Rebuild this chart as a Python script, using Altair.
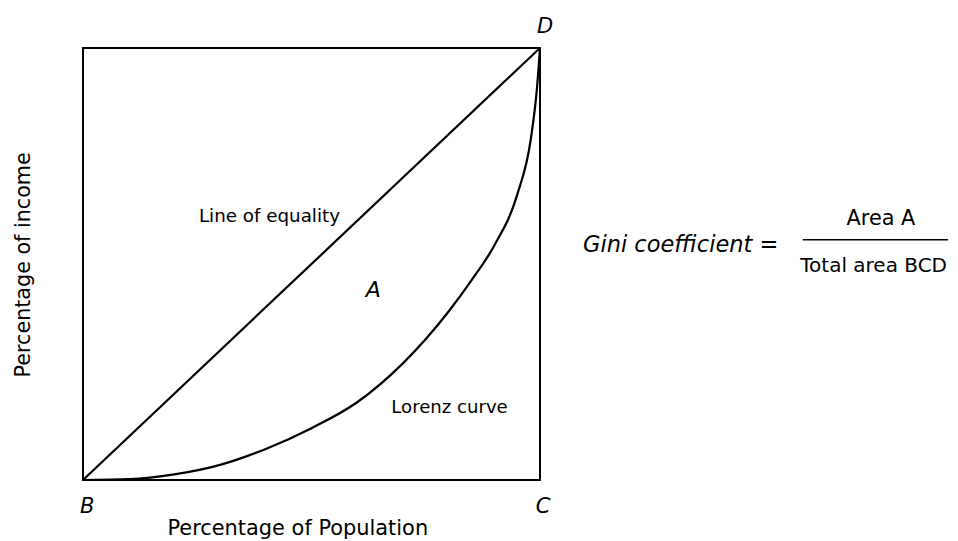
import altair as alt
import pandas as pd

# Line of equality
eq_x = [0, 100]
eq_y = [0, 100]

# Lorenz curve
lorenz_x = [0, 10, 20, 30, 40, 50, 60, 70, 80, 85, 90, 95, 98, 99.3, 100]
lorenz_y = [0, 0.2, 1.3, 3.5, 7.2, 12.0, 18.0, 27.0, 39.0, 46.2, 54.3, 66.0, 79.0, 90.3, 100]

# Annotation texts
labels = ["Line of equality", "A", "Lorenz curve", "B", "C", "D"]
label_x = [40.8, 63.5, 80.2, 0.9, 100.7, 101.1]
label_y = [59.7, 42.4, 15.5, -7.6, -7.6, 103.5]

FONT = "DejaVu Sans"

xs = alt.Scale(domain=[0, 100], nice=False, zero=False)
ys = alt.Scale(domain=[0, 100], nice=False, zero=False)

def X(field="x"):
    return alt.X(f"{field}:Q", scale=xs, axis=None)

def Y(field="y"):
    return alt.Y(f"{field}:Q", scale=ys, axis=None)

eq_df = pd.DataFrame({"x": eq_x, "y": eq_y})
lor_df = pd.DataFrame({"x": lorenz_x, "y": lorenz_y})

eq_line = alt.Chart(eq_df).mark_line(color="black", strokeWidth=2.2).encode(x=X(), y=Y())
lor_line = alt.Chart(lor_df).mark_line(color="black", strokeWidth=2.2, interpolate="monotone").encode(x=X(), y=Y())

def txt(text, x, y, size, italic=False, align="center", angle=0):
    df = pd.DataFrame({"x": [x], "y": [y], "t": [text]})
    kw = dict(font=FONT, fontSize=size, color="black", align=align, baseline="alphabetic")
    if italic:
        kw["fontStyle"] = "italic"
    if angle:
        kw["angle"] = angle
    return alt.Chart(df).mark_text(**kw).encode(x=X(), y=Y(), text="t:N")

layers = [eq_line, lor_line]
sizes = [18.3, 22, 18.1, 21, 21, 21]
italics = [False, True, False, True, True, True]
for t, x, y, s, it in zip(labels, label_x, label_y, sizes, italics):
    layers.append(txt(t, x, y, s, it))

# axis titles
layers.append(txt("Percentage of Population", 47.0, -12.7, 20.9))
layers.append(txt("Percentage of income", -11.6, 49.8, 20.7, angle=270))

# Gini formula
layers.append(txt("Gini coefficient =", 109.4, 52.8, 22.5, italic=True, align="left"))
layers.append(txt("Area A", 174.6, 59.0, 20.8))
layers.append(txt("Total area BCD", 173.0, 48.1, 20.0))
frac_df = pd.DataFrame({"x": [157.5], "x2": [189.3], "y": [55.6]})
layers.append(
    alt.Chart(frac_df).mark_rule(color="black", strokeWidth=1.5).encode(
        x=X(), x2="x2:Q", y=Y()
    )
)

chart = alt.layer(*layers).properties(
    width=457,
    height=432,
    autosize=alt.AutoSizeParams(type="none"),
    padding={"left": 75, "top": 40, "right": 410, "bottom": 62},
).configure_view(stroke="black", strokeWidth=2)

chart.save("out.html", embed_options={"renderer": "svg", "actions": False})
